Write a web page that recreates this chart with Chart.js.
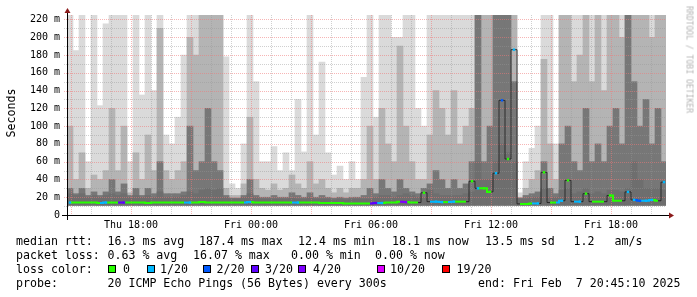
<!DOCTYPE html>
<html><head><meta charset="utf-8">
<script src="https://cdn.jsdelivr.net/npm/chart.js@4.4.1/dist/chart.umd.min.js"></script>
<style>
html,body{margin:0;padding:0;background:#fff;}
#wrap{position:relative;width:697px;height:297px;overflow:hidden;background:#fff;}
canvas{position:absolute;left:0;top:0;}
.t{position:absolute;font-family:'DejaVu Sans Mono',monospace;font-size:11.6px;line-height:12px;white-space:pre;color:#000;}
.box{position:absolute;width:6px;height:6px;border:1px solid #000;}
.rot{position:absolute;font-family:'DejaVu Sans Mono',monospace;white-space:pre;}
</style></head><body>
<div id="wrap">
<canvas id="c" width="697" height="297"></canvas>
<div class="rot" style="left:-19px;top:107px;width:60px;text-align:center;font-size:11.6px;line-height:12px;color:#000;transform:rotate(-90deg);">Seconds</div>
<div class="rot" style="left:634px;top:55px;width:110px;text-align:center;font-size:8.1px;line-height:9px;color:#b4b4b4;transform:rotate(90deg);">RRDTOOL / TOBI OETIKER</div>

<div class="t" style="left:16px;top:235px">median rtt:</div>
<div class="t" style="left:107.5px;top:235px">16.3 ms avg</div>
<div class="t" style="left:199px;top:235px">187.4 ms max</div>
<div class="t" style="left:298px;top:235px">12.4 ms min</div>
<div class="t" style="left:392px;top:235px">18.1 ms now</div>
<div class="t" style="left:485px;top:235px">13.5 ms sd</div>
<div class="t" style="left:573.5px;top:235px">1.2</div>
<div class="t" style="left:614.5px;top:235px">am/s</div>

<div class="t" style="left:16px;top:249px">packet loss:</div>
<div class="t" style="left:107.5px;top:249px">0.63 % avg</div>
<div class="t" style="left:193px;top:249px">16.07 % max</div>
<div class="t" style="left:291px;top:249px">0.00 % min</div>
<div class="t" style="left:375px;top:249px">0.00 % now</div>

<div class="t" style="left:16px;top:263px">loss color:</div>
<div id="lossLegend"></div>

<div class="t" style="left:16px;top:277px">probe:</div>
<div class="t" style="left:107.5px;top:277px">20 ICMP Echo Pings (56 Bytes) every 300s</div>
<div class="t" style="left:478px;top:277px">end: Fri Feb  7 20:45:10 2025</div>
</div>
<script>
// ---- data (ms), one value per 18-minute bin, from Thu 14:48 to Fri 20:48 ----
const FLOOR = 11;
const smokeOuter = [
225,185,225,60,225,123,215,225,225,225,60,225,135,225,140,225,90,80,110,180,225,225,225,225,225,
225,178,35,30,80,225,150,60,60,77,50,70,50,130,71,225,90,172,70,45,55,40,60,40,155,
225,110,225,225,200,200,225,225,120,100,225,225,225,225,225,225,225,225,225,225,225,225,225,225,225,
25,60,75,100,225,225,80,225,225,225,225,225,225,225,225,225,225,225,225,225,225,225,225,225,225];
const smokeMid = [
100,40,70,30,45,40,50,120,50,100,25,70,40,90,50,210,50,40,50,60,200,180,225,225,225,
225,30,22,22,35,110,40,30,28,35,28,30,45,35,30,60,35,40,30,25,30,25,30,30,40,
100,40,120,80,60,190,100,60,40,40,90,140,120,90,140,80,100,120,225,225,225,225,225,225,225,
20,30,40,50,175,80,40,225,225,150,180,225,150,225,140,225,225,200,225,225,225,225,200,225,225];
const smokeInner = [
30,24,30,22,26,22,26,40,26,35,22,30,22,30,24,60,24,24,24,26,100,50,60,120,60,
50,22,19,19,22,40,22,20,20,22,20,20,25,22,20,25,20,22,20,19,20,19,20,20,22,
30,24,40,30,26,40,30,26,24,30,35,50,40,30,40,30,35,60,225,60,100,225,225,225,150,
19,22,24,26,60,30,24,80,100,60,50,120,60,80,60,100,120,80,225,150,100,130,80,120,60];
const smokeCore = [
24,22,24,20,22,20,22,24,22,24,20,22,20,22,20,26,20,20,20,22,26,24,28,30,28,
30,20,18,18,20,24,20,18,18,18,18,18,19,18,18,20,18,18,18,17,18,17,18,18,18,
18,20,22,22,20,22,24,22,20,20,28,24,22,22,22,22,24,26,60,40,40,60,80,70,60,
18,18,20,20,30,20,20,28,30,24,26,30,24,26,24,28,28,26,30,60,40,30,30,30,28];
const medianRtt = [
14,14,14,14,14,13.5,14,14,14,14,14,14,14,13.5,14,14,14,14,14,14,14,14,14.5,14,14,
14,14,14,14,14,14.5,14,14,14,14,14,14,14,14,14,14,14,13.5,13.5,13.5,13.5,13,13,13,13,
13,13.5,13.5,14,14,15,14.5,14,14,25,15,15,14.5,14.5,15,15,15,38,30,30,26,47,129,63,186,
12.5,12.5,13,13,48,14,14,16,39,15,15,24,15,15,15,22,16,16,26,17,16,16,17,16,37];
const lossPings = [
1,0,0,0,0,0,1,0,0,3,0,0,0,0,0,0,0,0,0,0,1,0,0,0,0,
0,0,0,0,0,1,0,0,0,0,0,0,0,1,0,0,0,0,0,0,0,0,0,0,0,
0,3,1,0,0,0,4,0,0,0,0,1,1,0,1,0,0,0,1,0,0,1,2,0,1,
0,0,0,1,0,0,0,1,0,0,1,0,0,0,0,0,0,0,1,1,2,1,1,0,1];
const lossSteps = [0,1,2,3,4,10,19];
const lossLabels = ['0','1/20','2/20','3/20','4/20','10/20','19/20'];
const lossColors = ['#26ff00','#00b8ff','#0059ff','#5e00ff','#7e00ff','#dd00ff','#ff0000'];
const startMin = 888, binMin = 18, endMin = 2685; // minutes from Thu 00:00
const days = ['Thu','Fri'];
const yTickValues = [0,20,40,60,80,100,120,140,160,180,200,220];

// ---- legend boxes ----
const boxX = [108,146.5,202.5,250.5,298,376.5,441.5];
const labX = [123,160,216.5,265,313,390,456.5];
const ll = document.getElementById('lossLegend');
lossLabels.forEach((l,i)=>{
  const b=document.createElement('div'); b.className='box';
  b.style.left=boxX[i]+'px'; b.style.top='265px'; b.style.background=lossColors[i]; ll.appendChild(b);
  const t=document.createElement('div'); t.className='t';
  t.style.left=labX[i]+'px'; t.style.top='263px'; t.textContent=l; ll.appendChild(t);
});

function lossColor(n){let c=lossColors[0];lossSteps.forEach((s,i)=>{if(n>=s)c=lossColors[i];});return c;}
function hhmm(m){const h=Math.floor((m%1440)/60),mi=m%60;return String(h).padStart(2,'0')+':'+String(mi).padStart(2,'0');}
const binTimes = smokeOuter.map((_,i)=>startMin+i*binMin+binMin/2);

const bar = (vals,color,order)=>({type:'bar',data:vals.map((v,i)=>({x:binTimes[i],y:[FLOOR,v]})),
  backgroundColor:color,borderWidth:0,barThickness:6,grouped:false,order:order});

const jump = c => Math.abs(c.p1.parsed.y - c.p0.parsed.y) > 6;
const MAJ = 'rgba(240,120,120,0.55)', MIN = 'rgba(150,150,150,0.45)';
const mono = {family:"'DejaVu Sans Mono', monospace", size:10};

// grid (over the smoke, under the median line), time labels and axes
const rrdPlugin = {id:'rrd',
  beforeDatasetDraw(chart,args){
    if(args.index!==4) return;
    const g=chart.ctx, a=chart.chartArea, sx=chart.scales.x, sy=chart.scales.y;
    g.save(); g.lineWidth=1; g.setLineDash([1,1]);
    for(let m=Math.ceil(startMin/60)*60; m<=endMin; m+=60){
      const px=Math.round(sx.getPixelForValue(m))+0.5;
      g.strokeStyle = m%180===0?MAJ:MIN;
      g.beginPath(); g.moveTo(px,a.top); g.lineTo(px,a.bottom); g.stroke();
    }
    for(let v=10; v<=220; v+=10){
      const py=Math.round(sy.getPixelForValue(v))+0.5;
      g.strokeStyle = v%20===0?MAJ:MIN;
      g.beginPath(); g.moveTo(a.left-3,py); g.lineTo(a.right,py); g.stroke();
    }
    g.restore();
  },
  afterDraw(chart){
    const g=chart.ctx, a=chart.chartArea, sx=chart.scales.x;
    g.save();
    g.fillStyle='#000'; g.font="10px 'DejaVu Sans Mono', monospace"; g.textAlign='center'; g.textBaseline='middle';
    for(let m=Math.ceil(startMin/360)*360; m<=endMin; m+=360){
      g.fillText(days[Math.floor(m/1440)]+' '+hhmm(m), sx.getPixelForValue(m), a.bottom+10);
    }
    g.strokeStyle='#000'; g.lineWidth=1;
    g.beginPath(); g.moveTo(a.left-5,a.bottom+0.5); g.lineTo(a.right+4,a.bottom+0.5); g.stroke();
    g.beginPath(); g.moveTo(a.left+0.5,a.bottom+5); g.lineTo(a.left+0.5,a.top-3); g.stroke();
    g.fillStyle='#8b1a1a';
    g.beginPath(); g.moveTo(a.right+3,a.bottom-2.5); g.lineTo(a.right+8,a.bottom+0.5); g.lineTo(a.right+3,a.bottom+3.5); g.closePath(); g.fill();
    g.beginPath(); g.moveTo(a.left-2.5,a.top-2); g.lineTo(a.left+0.5,a.top-7); g.lineTo(a.left+3.5,a.top-2); g.closePath(); g.fill();
    g.restore();
  }};

new Chart(document.getElementById('c'), {
  type:'bar',
  data:{datasets:[
    bar(smokeOuter,'#dadada',5),
    bar(smokeMid,'#b4b4b4',4),
    bar(smokeInner,'#777777',3),
    bar(smokeCore,'#6e6e6e',2),
    {type:'line',data:medianRtt.map((v,i)=>({x:binTimes[i],y:v})),order:0,stepped:'middle',
     borderWidth:2,borderColor:'#26ff00',
     segment:{borderColor:c=>jump(c)?'rgba(30,30,30,0.85)':lossColor(lossPings[c.p1DataIndex]),
              borderWidth:c=>jump(c)?1:2},
     pointStyle:'rect',
     pointRadius:c=>(lossPings[c.dataIndex]>0||medianRtt[c.dataIndex]>20)?1.7:0,
     pointBackgroundColor:c=>lossColor(lossPings[c.dataIndex]),
     pointBorderWidth:0,pointHoverRadius:0}
  ]},
  options:{
    responsive:false, animation:false, devicePixelRatio:1,
    layout:{padding:{top:15,right:31,left:0,bottom:0}},
    plugins:{legend:{display:false},tooltip:{enabled:false}},
    events:[],
    scales:{
      x:{type:'linear',position:'bottom',min:startMin,max:endMin,offset:false,
         afterFit:s=>{s.height=82;},
         ticks:{display:false},
         grid:{display:false,drawTicks:false},
         border:{display:false}},
      y:{type:'linear',min:0,max:225,
         afterFit:s=>{s.width=67;},
         afterBuildTicks:s=>{s.ticks=yTickValues.map(v=>({value:v}));},
         ticks:{autoSkip:false,padding:7,font:mono,color:'#000',
           callback:v=>(v===0?'0':v+' m')},
         grid:{display:false,drawTicks:false},
         border:{display:false}}
    }
  },
  plugins:[rrdPlugin]
});
</script>
</body></html>
